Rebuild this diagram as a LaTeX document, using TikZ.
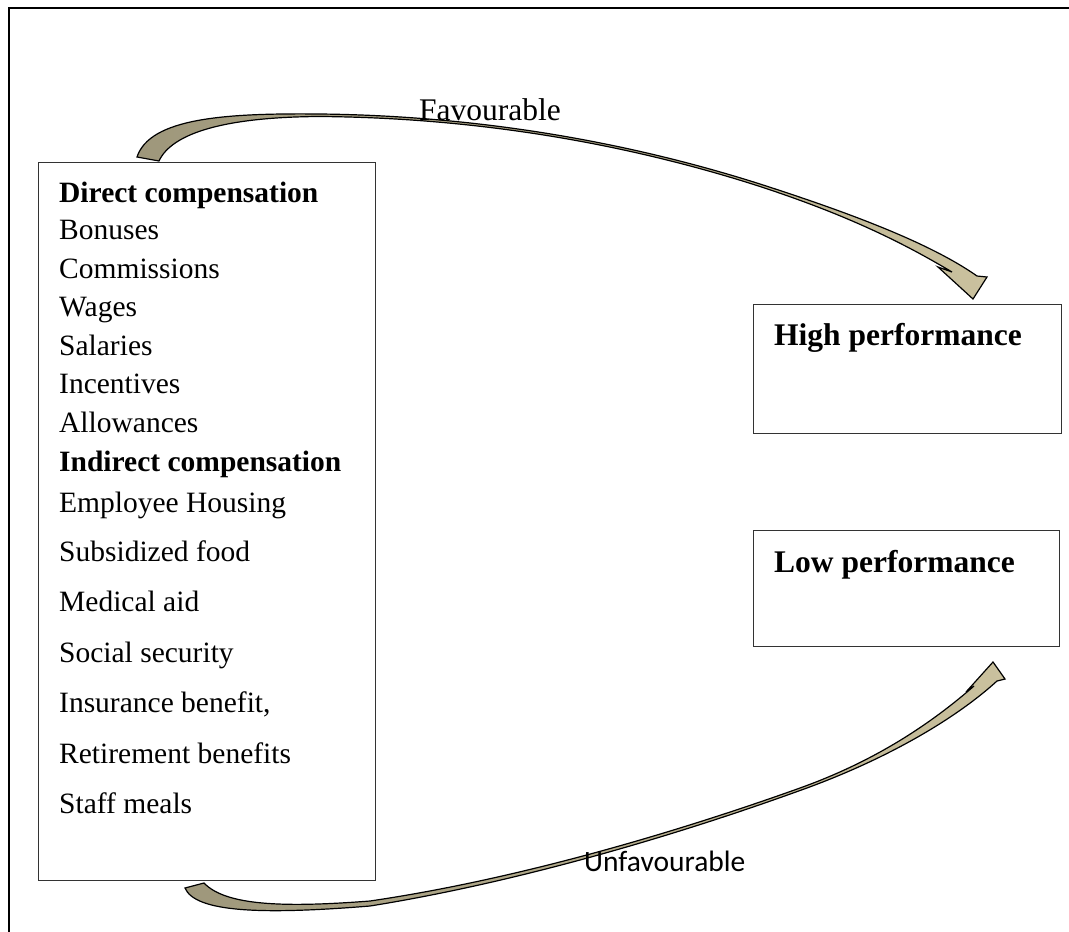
\documentclass[tikz,border=0pt]{standalone}
\usepackage{fontspec}
\setmainfont{LiberationSerif}[Extension=.ttf, UprightFont=*-Regular, BoldFont=*-Bold, ItalicFont=*-Italic, BoldItalicFont=*-BoldItalic]
\newfontfamily\calibfont{Carlito}
\definecolor{tailcol}{HTML}{9E977B}
\definecolor{headcol}{HTML}{CAC19E}
\definecolor{boxline}{HTML}{333333}
\begin{document}
\begin{tikzpicture}[x=1pt,y=-1pt,
  box/.style={draw=boxline, line width=1.2pt, inner sep=0pt, fill=white},
  listtext/.style={anchor=base west, inner sep=0pt, font=\fontsize{29.5}{35}\selectfont},
  headtext/.style={anchor=base west, inner sep=0pt, font=\fontsize{31.5}{37}\selectfont\bfseries},
  lbl/.style={anchor=base west, inner sep=0pt},
  arrowfill/.style={draw=black, line width=1.2pt, line join=miter, left color=tailcol, right color=headcol}]
\useasboundingbox (0,0) rectangle (1069,932);
\coordinate (fA) at (9,932);
\coordinate (fB) at (9,8);
\coordinate (fC) at (1069,8);
\draw[line width=1.3pt] (fA) -- (fB) -- (fC);

% boxes
\node[box, anchor=north west, minimum width=337pt, minimum height=718pt] (comp) at (38,162) {};
\node[box, anchor=north west, minimum width=308pt, minimum height=129pt] (high) at (753,304) {};
\node[box, anchor=north west, minimum width=306pt, minimum height=116pt] (low) at (753,530) {};

% arrows
\path[arrowfill] (137,157) .. controls (150,118) and (225,113) .. (320,114)
  .. controls (500,116) and (650,149) .. (760,184)
  .. controls (850,213) and (930,243) .. (977,276) -- (987,277) -- (973,299)
  -- (938,267) -- (952,272) .. controls (905,244) and (850,216) .. (760,186.5)
  .. controls (650,151) and (500,118) .. (320,116.5)
  .. controls (225,117) and (172,133) .. (159,161) -- cycle;
\path[arrowfill] (185,888) .. controls (195,912) and (260,915) .. (370,906)
  .. controls (520,882) and (680,834) .. (800,790.5)
  .. controls (880,762) and (952,722) .. (997,681) -- (1005,679) -- (993,662)
  -- (966,692) -- (974,686) .. controls (935,720) and (880,759.3) .. (800,788)
  .. controls (680,831) and (520,879) .. (370,901)
  .. controls (280,908) and (225,905) .. (204,883) -- cycle;

% list text
\node[listtext, font=\fontsize{29.5}{35}\selectfont\bfseries] (t1) at (59,202) {Direct compensation};
\node[listtext] (t2) at (59,239) {Bonuses};
\node[listtext] (t3) at (59,278) {Commissions};
\node[listtext] (t4) at (59,316) {Wages};
\node[listtext] (t5) at (59,355) {Salaries};
\node[listtext] (t6) at (59,393) {Incentives};
\node[listtext] (t7) at (59,432) {Allowances};
\node[listtext, font=\fontsize{29.5}{35}\selectfont\bfseries] (t8) at (59,471) {Indirect compensation};
\node[listtext] (t9) at (59,512) {Employee Housing};
\node[listtext] (t10) at (59,561) {Subsidized food};
\node[listtext] (t11) at (59,611) {Medical aid};
\node[listtext] (t12) at (59,662) {Social security};
\node[listtext] (t13) at (59,712) {Insurance benefit,};
\node[listtext] (t14) at (59,763) {Retirement benefits};
\node[listtext] (t15) at (59,813) {Staff meals};

\node[headtext] (hp) at (774,345) {High performance};
\node[headtext] (lp) at (774,572) {Low performance};

\node[lbl, font=\fontsize{31.5}{37}\selectfont] (fav) at (419,120) {Favourable};
\node[lbl, font=\calibfont\fontsize{29.5}{35}\selectfont] (unfav) at (584,871) {Unfavourable};
\end{tikzpicture}
\end{document}
